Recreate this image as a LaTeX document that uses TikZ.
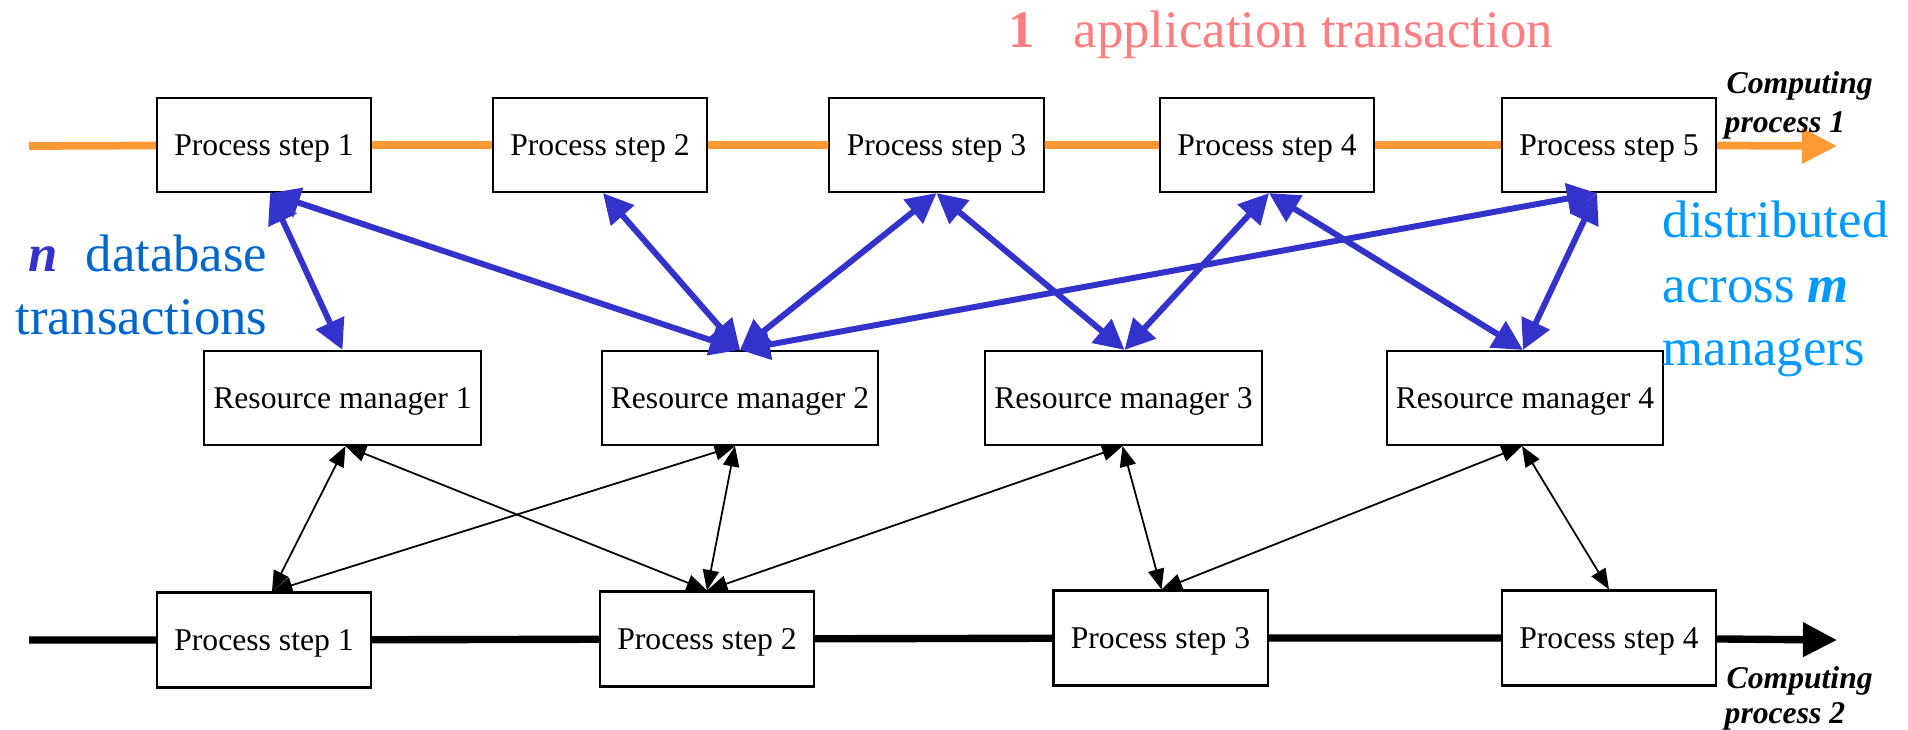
\documentclass[tikz,border=0pt]{standalone}
\usepackage{fontspec}
\setmainfont{Liberation Serif}
\usetikzlibrary{arrows.meta,calc}
\definecolor{orangeL}{RGB}{255,153,51}
\definecolor{blueA}{RGB}{51,51,204}
\definecolor{blueT}{RGB}{0,102,204}
\definecolor{blueL}{RGB}{0,153,255}
\definecolor{pinkT}{RGB}{255,124,128}
\begin{document}
\begin{tikzpicture}[x=0.01cm,y=-0.01cm,
  box/.style={draw=black,line width=0.6pt,fill=white,minimum width=2.14cm,minimum height=0.94cm,inner sep=0pt,text depth=0pt,font=\fontsize{9}{11}\selectfont},
  rmbox/.style={box,minimum width=2.76cm},
  bbox/.style={box,minimum height=0.95cm},
  bluearrow/.style={blueA,line width=1.7pt,{Triangle[length=8.5pt,width=8.5pt]}-{Triangle[length=8.5pt,width=8.5pt]}},
  blackarrow/.style={black,line width=0.5pt,{Triangle[length=5.8pt,width=4.6pt]}-{Triangle[length=5.8pt,width=4.6pt]}},
  orangeline/.style={orangeL,line width=2.2pt},
  blackline/.style={black,line width=2.1pt},
  bigtext/.style={inner sep=0pt,font=\fontsize{15}{18}\selectfont},
  cptext/.style={inner sep=0pt,anchor=base west,font=\fontsize{9}{11}\selectfont\bfseries\itshape}
]
\useasboundingbox (0,0) rectangle (1908,729);

% top row
\node[box] (p1) at (264,145) {Process step 1};
\node[box] (p2) at (600,145) {Process step 2};
\node[box] (p3) at (936.5,145) {Process step 3};
\node[box] (p4) at (1267,145) {Process step 4};
\node[box] (p5) at (1609,145) {Process step 5};
% resource managers
\node[rmbox] (r1) at (342.5,398) {Resource manager 1};
\node[rmbox] (r2) at (740,398) {Resource manager 2};
\node[rmbox] (r3) at (1123.5,398) {Resource manager 3};
\node[rmbox] (r4) at (1525,398) {Resource manager 4};
% bottom row
\node[bbox] (b1) at (264,640) {Process step 1};
\node[bbox] (b2) at (707,639) {Process step 2};
\node[bbox] (b3) at (1160.5,638) {Process step 3};
\node[bbox] (b4) at (1609,638) {Process step 4};

% process lines
\coordinate (os) at (29,146);
\coordinate (oe) at (1837,146);
\coordinate (ks) at (29,640);
\coordinate (ke) at (1837,640);
\draw[orangeline] (os) -- (p1) -- (p2) -- (p3) -- (p4) -- (p5);
\draw[orangeline,-{Triangle[length=10pt,width=9.7pt]}] (p5) -- (oe);
\draw[blackline] (ks) -- (b1) -- (b2) -- (b3) -- (b4);
\draw[blackline,-{Triangle[length=9.7pt,width=9.4pt]}] (b4) -- (ke);

% blue database transaction arrows
\draw[bluearrow] ($(p1.south)+(6,0)$) -- (r1.north);
\draw[bluearrow] ($(p1.south)+(6,0)$) -- (r2.north);
\draw[bluearrow] ($(p2.south)+(3,0)$) -- (r2.north);
\draw[bluearrow] (p3.south) -- (r2.north);
\draw[bluearrow] (p3.south) -- ($(r3.north)+(1,0)$);
\draw[bluearrow] ($(p4.south)+(2,0)$) -- ($(r3.north)+(1,0)$);
\draw[bluearrow] ($(p4.south)+(2,0)$) -- ($(r4.north)+(-2,0)$);
\draw[bluearrow] ($(p5.south)+(-12,0)$) -- (r2.north);
\draw[bluearrow] ($(p5.south)+(-12,0)$) -- ($(r4.north)+(-2,0)$);

% black arrows
\draw[blackarrow] ($(r1.south)+(3,0)$) -- ($(b1.north)+(8,0)$);
\draw[blackarrow] ($(r1.south)+(3,0)$) -- (b2.north);
\draw[blackarrow] ($(r2.south)+(-5,0)$) -- ($(b1.north)+(8,0)$);
\draw[blackarrow] ($(r2.south)+(-5,0)$) -- (b2.north);
\draw[blackarrow] ($(r3.south)+(-1,0)$) -- (b2.north);
\draw[blackarrow] ($(r3.south)+(-1,0)$) -- ($(b3.north)+(1,0)$);
\draw[blackarrow] ($(r4.south)+(-3,0)$) -- ($(b3.north)+(1,0)$);
\draw[blackarrow] ($(r4.south)+(-3,0)$) -- (b4.north);

% texts
\node[bigtext,anchor=base west,text=pinkT] (title) at (1008,47) {\textbf{1}\hspace{11pt}application transaction};
\node[bigtext,anchor=base east] (db1) at (268,271) {\textcolor{blueA}{\textbf{\textit{n}}}\hspace{8pt}\textcolor{blueT}{database}};
\node[bigtext,anchor=base east,text=blueT] (db2) at (268,334) {transactions};
\node[bigtext,anchor=base west,text=blueL] (ds1) at (1662,237) {distributed};
\node[bigtext,anchor=base west,text=blueL] (ds2) at (1662,302) {across \textbf{\textit{m}}};
\node[bigtext,anchor=base west,text=blueL] (ds3) at (1662,365) {managers};
\node[cptext] (c1a) at (1726,93) {Computing};
\node[cptext] (c1b) at (1724,132) {process 1};
\node[cptext] (c2a) at (1726,688) {Computing};
\node[cptext] (c2b) at (1724,723) {process 2};
\end{tikzpicture}
\end{document}
